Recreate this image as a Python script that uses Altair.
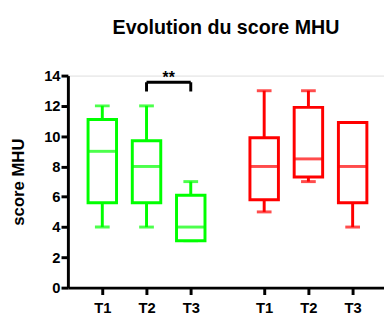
import altair as alt
import pandas as pd

# ---- data ----
times = ["T1", "T2", "T3"]
groups = ["vert", "rouge"]

green_min = [4, 4, 3.1]
green_q1 = [5.6, 5.6, 3.1]
green_med = [9, 8, 4]
green_q3 = [11.1, 9.7, 6.1]
green_max = [12, 12, 7]

red_min = [5, 7, 4]
red_q1 = [5.8, 7.3, 5.6]
red_med = [8, 8.5, 8]
red_q3 = [9.9, 11.9, 10.9]
red_max = [13, 13, 10.9]

colors = ["#00FF00", "#FF0000"]

# layout constants
GROUP_OFFSET = 3.66
FONT = "Liberation Sans"

rows = []
for g, (mn, q1, md, q3, mx) in enumerate([
    (green_min, green_q1, green_med, green_q3, green_max),
    (red_min, red_q1, red_med, red_q3, red_max),
]):
    for i, t in enumerate(times):
        rows.append(dict(group=groups[g], time=t, pos=i + g * GROUP_OFFSET,
                         mn=mn[i], q1=q1[i], med=md[i], q3=q3[i], mx=mx[i]))
df = pd.DataFrame(rows)

tick_vals = [float(v) for v in df["pos"]]

xscale = alt.Scale(domain=[-0.667, 6.258], nice=False, zero=False)
yscale = alt.Scale(domain=[0, 14], nice=False)
cscale = alt.Scale(domain=groups, range=colors)

x_axis = alt.Axis(values=tick_vals, title=None, grid=False, labelOverlap=False,
                  labelExpr="datum.value < 3 ? 'T' + (round(datum.value) + 1) : 'T' + (round(datum.value - %s) + 1)" % GROUP_OFFSET,
                  domainColor="black", domainWidth=3, tickColor="black", tickWidth=3, tickSize=7,
                  labelFont=FONT, labelFontSize=15, labelFontWeight="bold", labelColor="black",
                  labelPadding=6)
y_axis = alt.Axis(values=list(range(0, 15, 2)), title="score MHU", grid=False, labelOverlap=False,
                  labelFlush=False,
                  domainColor="black", domainWidth=3, tickColor="black", tickWidth=3, tickSize=7,
                  labelFont=FONT, labelFontSize=15, labelFontWeight="bold", labelColor="black",
                  labelPadding=1, titleFont=FONT, titleFontSize=17, titleFontWeight="bold",
                  titleColor="black", titleX=-50, titleY=108, titleBaseline="middle", titleAngle=270)


def Xq(field):
    return alt.X(field, type="quantitative", scale=xscale, axis=x_axis)


def Yq(field):
    return alt.Y(field, type="quantitative", scale=yscale, axis=y_axis)


base = alt.Chart(df)
C = alt.Color("group:N", scale=cscale, legend=None)

upper = base.mark_rule(strokeWidth=3).encode(x=Xq("pos"), y=Yq("q3"), y2="mx:Q", color=C)
lower = base.mark_rule(strokeWidth=3).encode(x=Xq("pos"), y=Yq("mn"), y2="q1:Q", color=C)
cap_hi = base.mark_tick(orient="horizontal", size=15, thickness=3).encode(x=Xq("pos"), y=Yq("mx"), color=C)
cap_lo = base.mark_tick(orient="horizontal", size=15, thickness=3).encode(x=Xq("pos"), y=Yq("mn"), color=C)
box = base.mark_bar(size=29, fill="white", strokeWidth=3).encode(
    x=Xq("pos"), y=Yq("q1"), y2="q3:Q", stroke=alt.Stroke("group:N", scale=cscale, legend=None))
med = base.mark_tick(orient="horizontal", size=29, thickness=3).encode(x=Xq("pos"), y=Yq("med"), color=C)

# significance bracket between green T2 and T3
br_h = pd.DataFrame(dict(x=[1.0], x2=[2.0], y=[13.56]))
br_v = pd.DataFrame(dict(x=[1.0, 2.0], y=[12.95, 12.95], y2=[13.56, 13.56]))
br_t = pd.DataFrame(dict(x=[1.5], y=[13.5], label=["**"]))

bh = alt.Chart(br_h).mark_rule(strokeWidth=3, color="black").encode(
    x=Xq("x"), x2="x2:Q", y=Yq("y"))
bv = alt.Chart(br_v).mark_rule(strokeWidth=3, color="black").encode(
    x=Xq("x"), y=Yq("y"), y2="y2:Q")
bt = alt.Chart(br_t).mark_text(font=FONT, fontSize=16, fontWeight="bold", color="black",
                               baseline="alphabetic", align="center").encode(
    x=Xq("x"), y=Yq("y"), text="label:N")

chart = alt.layer(upper, lower, cap_hi, cap_lo, box, med, bh, bv, bt).properties(
    width=322, height=216,
    autosize=alt.AutoSizeParams(type="none"),
    padding={"left": 61, "top": 66, "right": 0, "bottom": 24},
    title=alt.Title("Evolution du score MHU", font=FONT, fontSize=20, fontWeight="bold",
                    color="black", anchor="middle", baseline="alphabetic", offset=15),
).configure_view(stroke=None).configure(background="white")

chart.save("out.html", embed_options={"renderer": "svg", "actions": False})
